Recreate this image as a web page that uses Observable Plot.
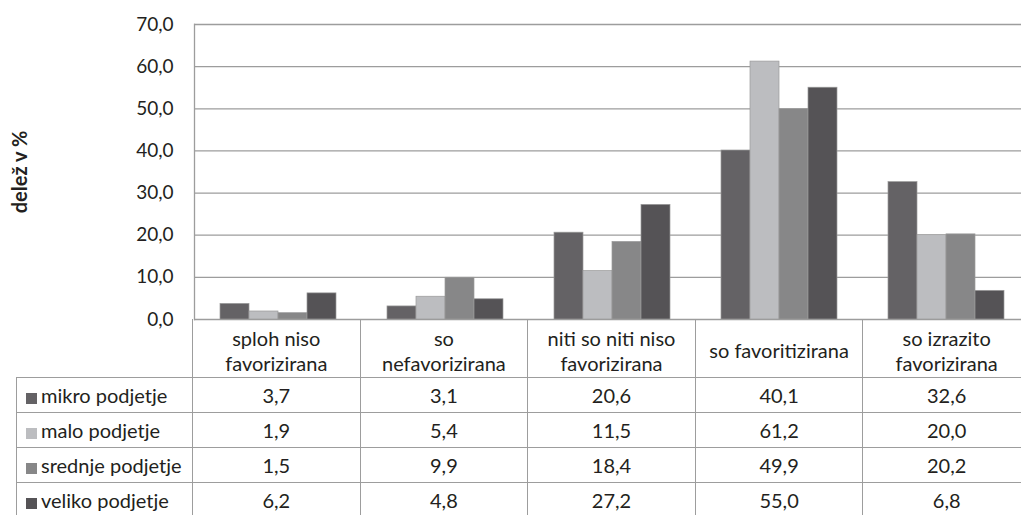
<!DOCTYPE html>
<html>
<head>
<meta charset="utf-8">
<script src="https://cdn.jsdelivr.net/npm/d3@7"></script>
<script src="https://cdn.jsdelivr.net/npm/@observablehq/plot@0.6"></script>
<style>
  html, body { margin: 0; padding: 0; background: #fff; overflow: hidden; }
  #wrap { position: relative; width: 1030px; height: 515px; font-family: Lato, "Open Sans", sans-serif; color: #231f20; }
  #wrap svg { position: absolute; left: 0; top: 0; overflow: visible; }
  #wrap svg [aria-label="y-axis label"] text, #wrap svg g[aria-label="y-axis label"] { font-weight: bold; font-size: 20px; }
  table.dt { position: absolute; left: 16px; top: 319px; border-collapse: collapse; table-layout: fixed; width: 1014px; font-size: 20px; }
  table.dt td { border: 1.3px solid #9d9d9d; text-align: center; padding: 0; white-space: pre-line; line-height: 24.5px; }
  table.dt tr.head td { border-top: none; height: 53px; padding-top: 5px; vertical-align: middle; }
  table.dt tr.head td.corner { border-left: none; }
  table.dt tr.row td { height: 34px; }
  table.dt td.name { text-align: left; padding-left: 9px; white-space: nowrap; }
  .sw { display: inline-block; width: 11px; height: 11px; margin-right: 4px; vertical-align: -1px; }
</style>
</head>
<body>
<div id="wrap"></div>
<script>
const categories = ["sploh niso favorizirana", "so nefavorizirana", "niti so niti niso favorizirana", "so favoritizirana", "so izrazito favorizirana"];
const categoryLabels = ["sploh niso\nfavorizirana", "so\nnefavorizirana", "niti so niti niso\nfavorizirana", "so favoritizirana", "so izrazito\nfavorizirana"];
const series = ["mikro podjetje", "malo podjetje", "srednje podjetje", "veliko podjetje"];
const mikro = [3.7, 3.1, 20.6, 40.1, 32.6];
const malo = [1.9, 5.4, 11.5, 61.2, 20.0];
const srednje = [1.5, 9.9, 18.4, 49.9, 20.2];
const veliko = [6.2, 4.8, 27.2, 55.0, 6.8];
const colors = ["#646265", "#bcbdc0", "#878788", "#555356"];
const yTicks = [0, 10, 20, 30, 40, 50, 60, 70];

const values = [mikro, malo, srednje, veliko];
const rows = [];
series.forEach((s, j) => categories.forEach((c, i) => rows.push({category: c, series: s, value: values[j][i]})));
const fmt = v => v.toFixed(1).replace(".", ",");

const chart = Plot.plot({
  width: 1030,
  height: 320,
  marginTop: 24,
  marginBottom: 1,
  marginLeft: 192,
  marginRight: 0,
  style: {fontFamily: "Lato, 'Open Sans', sans-serif", fontSize: "19px", color: "#231f20", background: "transparent"},
  fx: {domain: categories, padding: 0, axis: null},
  x: {domain: series, paddingInner: 0, paddingOuter: 0.79, axis: null},
  y: {domain: [0, 70]},
  color: {domain: series, range: colors},
  marks: [
    Plot.ruleY(yTicks, {stroke: "#9d9d9d", strokeWidth: 1.3, strokeOpacity: 1}),
    Plot.frame({anchor: "left", facetAnchor: "left", stroke: "#9d9d9d", strokeWidth: 1.3}),
    Plot.barY(rows, {fx: "category", x: "series", y: "value", fill: "series", stroke: "#9a9a9a", strokeWidth: 0.7}),
    Plot.axisY(yTicks, {tickSize: 0, tickPadding: 21, tickFormat: fmt, fill: "#231f20", label: "delež v %", labelAnchor: "center", labelArrow: "none", labelOffset: 182})
  ]
});

const wrap = document.getElementById("wrap");
wrap.appendChild(chart);

// data table below the axis
const table = document.createElement("table");
table.className = "dt";
const colgroup = document.createElement("colgroup");
const c0 = document.createElement("col"); c0.style.width = "176px"; colgroup.appendChild(c0);
categories.forEach(() => { const c = document.createElement("col"); c.style.width = "167.6px"; colgroup.appendChild(c); });
table.appendChild(colgroup);
const head = document.createElement("tr"); head.className = "head";
const corner = document.createElement("td"); corner.className = "corner"; head.appendChild(corner);
categoryLabels.forEach(l => { const td = document.createElement("td"); td.textContent = l; head.appendChild(td); });
table.appendChild(head);
series.forEach((s, j) => {
  const tr = document.createElement("tr"); tr.className = "row";
  const name = document.createElement("td"); name.className = "name";
  const sw = document.createElement("span"); sw.className = "sw"; sw.style.background = colors[j];
  name.appendChild(sw); name.appendChild(document.createTextNode(s));
  tr.appendChild(name);
  values[j].forEach(v => { const td = document.createElement("td"); td.textContent = fmt(v); tr.appendChild(td); });
  table.appendChild(tr);
});
wrap.appendChild(table);
</script>
</body>
</html>
